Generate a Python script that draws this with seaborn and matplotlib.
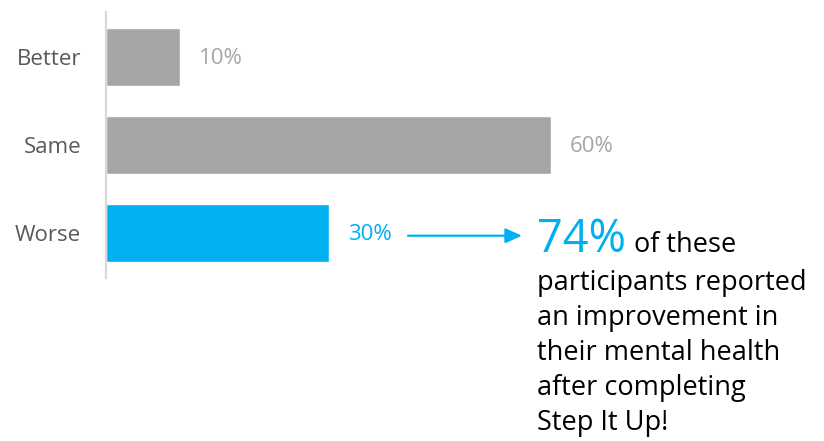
import matplotlib
matplotlib.use("Agg")
import matplotlib.pyplot as plt
import seaborn as sns
import pandas as pd

# Survey responses: change in mental health before joining
categories = ["Better", "Same", "Worse"]
values = [10, 60, 30]
value_labels = ["10%", "60%", "30%"]
bar_colors = ["#a5a5a5", "#a5a5a5", "#00b0f0"]
label_colors = ["#a6a6a6", "#a6a6a6", "#00b0f0"]

headline = "74%"
headline_tail = "of these"
body_lines = [
    "participants reported",
    "an improvement in",
    "their mental health",
    "after completing",
    "Step It Up!",
]

sns.set_style("white")
plt.rcParams["font.family"] = ["Open Sans", "DejaVu Sans"]

W, H = 824, 441
fig = plt.figure(figsize=(W / 100, H / 100), dpi=100)
# axes box in pixels: left 106, top 12, bottom 278
ax_left, ax_top, ax_bottom, ax_right = 106, 12, 278, 818
px_per_unit = 7.42
ax = fig.add_axes([ax_left / W, 1 - ax_bottom / H,
                   (ax_right - ax_left) / W, (ax_bottom - ax_top) / H])

df = pd.DataFrame({"category": categories, "value": values})
sns.barplot(data=df, x="value", y="category", hue="category",
            palette=bar_colors, orient="h", width=0.65, legend=False,
            saturation=1, ax=ax)

ax.set_xlim(0, (ax_right - ax_left) / px_per_unit)
ax.set_ylim(2.51, -0.51)
ax.set_xlabel("")
ax.set_ylabel("")
ax.set_xticks([])

for s in ["top", "right", "bottom"]:
    ax.spines[s].set_visible(False)
ax.spines["left"].set_color("#d9d9d9")
ax.spines["left"].set_linewidth(1.6)
ax.tick_params(axis="y", length=0, pad=18, labelsize=16, labelcolor="#595959")

for i, (v, lab, col) in enumerate(zip(values, value_labels, label_colors)):
    ax.annotate(lab, xy=(v, i + 0.02), xytext=(13.7, 0),
                textcoords="offset points", va="center", ha="left",
                fontsize=16, color=col)

# arrow pointing from the "Worse" bar to the callout
x_start = (408 - ax_left) / px_per_unit
x_end = (522 - ax_left) / px_per_unit
ax.annotate("", xy=(x_end, 2.03), xytext=(x_start, 2.03),
            xycoords="data", textcoords="data",
            arrowprops=dict(arrowstyle="-|>,head_length=1.0,head_width=0.45",
                            color="#00b0f0", lw=1.6, shrinkA=0, shrinkB=0))

# callout text
x0 = 537 / W
t = fig.text(x0, 1 - 252 / H, headline, fontsize=32.5, color="#00b0f0",
             va="baseline", ha="left")
fig.canvas.draw()
bb = t.get_window_extent(renderer=fig.canvas.get_renderer())
fig.text((bb.x1 + 8) / W, 1 - 252 / H, headline_tail, fontsize=19.5,
         color="#000000", va="baseline", ha="left")

baselines = [290, 325, 360, 395, 430]
for line, yb in zip(body_lines, baselines):
    fig.text(x0, 1 - yb / H, line, fontsize=19.5, color="#000000",
             va="baseline", ha="left")

fig.savefig("out.png", dpi=100)
